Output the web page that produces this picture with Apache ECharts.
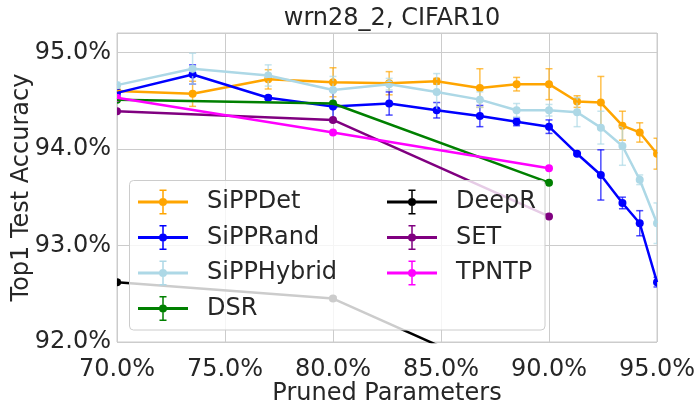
<!DOCTYPE html>
<html>
<head>
<meta charset="utf-8">
<script src="https://cdn.jsdelivr.net/npm/echarts@6/dist/echarts.min.js"></script>
<style>
  html, body { margin: 0; padding: 0; background: #ffffff; }
  #chart { width: 696px; height: 404px; }
</style>
</head>
<body>
<div id="chart"></div>
<script>
// Pruning schedule used by the SiPP variants (percent of parameters pruned)
const sippPruned = [70, 73.5, 77, 80, 82.6, 84.8, 86.8, 88.5, 90, 91.3, 92.4, 93.4, 94.2, 95];
const sippDetMean  = [94.60, 94.57, 94.72, 94.69, 94.68, 94.70, 94.63, 94.67, 94.67, 94.49, 94.48, 94.24, 94.17, 93.95];
const sippDetStd   = [0.05, 0.13, 0.10, 0.15, 0.12, 0.03, 0.20, 0.07, 0.16, 0.06, 0.27, 0.15, 0.10, 0.16];
const sippRandMean = [94.58, 94.77, 94.53, 94.44, 94.47, 94.40, 94.34, 94.28, 94.23, 93.95, 93.73, 93.44, 93.23, 92.62];
const sippRandStd  = [0.03, 0.10, 0.02, 0.16, 0.12, 0.08, 0.11, 0.04, 0.07, 0.01, 0.26, 0.06, 0.13, 0.05];
const sippHybMean  = [94.66, 94.83, 94.76, 94.61, 94.67, 94.59, 94.51, 94.40, 94.40, 94.38, 94.22, 94.03, 93.68, 93.23];
const sippHybStd   = [0.03, 0.16, 0.11, 0.14, 0.06, 0.19, 0.08, 0.07, 0.06, 0.15, 0.17, 0.20, 0.05, 0.21];

// Baselines evaluated at three pruning levels
const basePruned = [70, 80, 90];
const dsrMean   = [94.51, 94.47, 93.65];
const deepRMean = [92.62, 92.45, 91.45];
const deepRStd  = [0.02, 0.02, 0.02];
const setMean   = [94.39, 94.30, 93.30];
const tpntpMean = [94.53, 94.17, 93.80];

const xTicks = [70, 75, 80, 85, 90, 95];
const yTicks = [92, 93, 94, 95];

const FONT = '"DejaVu Sans", sans-serif';
const TEXT = '#262626';
const GRID = '#cccccc';

// Legend glyph: line, error bar with caps, and a round marker
const ICON = 'path://M0,11 L50,11 L50,14 L0,14 Z ' +
  'M24.25,0 L25.75,0 L25.75,25 L24.25,25 Z ' +
  'M21.5,0 L28.5,0 L28.5,1.5 L21.5,1.5 Z ' +
  'M21.5,23.5 L28.5,23.5 L28.5,25 L21.5,25 Z ' +
  'M29,12.5 A4,4 0 1 1 21,12.5 A4,4 0 1 1 29,12.5 Z';

function lineSeries(name, xs, ys, color) {
  return {
    name: name,
    type: 'line',
    data: xs.map((x, i) => [x, ys[i]]),
    symbol: 'none',
    clip: true,
    lineStyle: { color: color, width: 2.5 },
    itemStyle: { color: color },
    animation: false
  };
}

// Markers and error bars, clipped to the plotting area
function markSeries(name, xs, ys, errs, color) {
  return {
    name: name + ' marks',
    type: 'custom',
    silent: true,
    animation: false,
    encode: { x: 0, y: 1 },
    data: xs.map((x, i) => [x, ys[i], errs ? errs[i] : 0]),
    renderItem: function (params, api) {
      const x = api.value(0), y = api.value(1), e = api.value(2);
      const c = api.coord([x, y]);
      const cs = params.coordSys;
      const children = [];
      if (e > 0) {
        const top = api.coord([x, y + e])[1];
        const bot = api.coord([x, y - e])[1];
        const st = { stroke: color, lineWidth: 1.5, opacity: 0.7 };
        children.push({ type: 'line', shape: { x1: c[0], y1: top, x2: c[0], y2: bot }, style: st });
        children.push({ type: 'line', shape: { x1: c[0] - 3.5, y1: top, x2: c[0] + 3.5, y2: top }, style: st });
        children.push({ type: 'line', shape: { x1: c[0] - 3.5, y1: bot, x2: c[0] + 3.5, y2: bot }, style: st });
      }
      children.push({ type: 'circle', shape: { cx: c[0], cy: c[1], r: 4 }, style: { fill: color } });
      return {
        type: 'group',
        clipPath: { type: 'rect', shape: { x: cs.x, y: cs.y, width: cs.width, height: cs.height } },
        children: children
      };
    }
  };
}

const groups = [
  ['SiPPDet', sippPruned, sippDetMean, sippDetStd, '#FFA500'],
  ['SiPPRand', sippPruned, sippRandMean, sippRandStd, '#0000FF'],
  ['SiPPHybrid', sippPruned, sippHybMean, sippHybStd, '#ADD8E6'],
  ['DSR', basePruned, dsrMean, null, '#008000'],
  ['DeepR', basePruned, deepRMean, deepRStd, '#000000'],
  ['SET', basePruned, setMean, null, '#800080'],
  ['TPNTP', basePruned, tpntpMean, null, '#FF00FF']
];

const series = [];
groups.forEach(g => {
  series.push(lineSeries(g[0], g[1], g[2], g[4]));
  series.push(markSeries(g[0], g[1], g[2], g[3], g[4]));
});

const legendCommon = {
  orient: 'vertical',
  top: 189.5,
  padding: 0,
  itemWidth: 50,
  itemHeight: 25,
  itemGap: 10.5,
  selectedMode: false,
  zlevel: 2,
  z: 6,
  itemStyle: { borderWidth: 0 },
  textStyle: { fontFamily: FONT, fontSize: 24, color: TEXT, padding: [0, 0, 0, 14] }
};

const chart = echarts.init(document.getElementById('chart'), null, { renderer: 'canvas' });
chart.setOption({
  backgroundColor: '#ffffff',
  animation: false,
  title: {
    text: 'wrn28_2, CIFAR10',
    left: 387, textAlign: 'center', top: 2,
    textStyle: { fontFamily: FONT, fontSize: 24, fontWeight: 'normal', color: TEXT }
  },
  grid: {
    left: 117, right: 39, top: 33, bottom: 62,
    containLabel: false, outerBoundsMode: 'none',
    show: true, borderColor: GRID, borderWidth: 1, backgroundColor: 'transparent'
  },
  xAxis: {
    type: 'value', min: xTicks[0], max: xTicks[xTicks.length - 1], interval: 5,
    name: 'Pruned Parameters', nameLocation: 'middle', nameGap: 40, nameMoveOverlap: false,
    nameTextStyle: { fontFamily: FONT, fontSize: 24, color: TEXT },
    axisLine: { show: false }, axisTick: { show: false },
    axisLabel: { fontFamily: FONT, fontSize: 24, color: TEXT, margin: 16,
      formatter: v => v.toFixed(1) + '%' },
    splitLine: { show: true, lineStyle: { color: GRID, width: 1 } }
  },
  yAxis: {
    type: 'value', min: yTicks[0], max: 95.2, interval: 1,
    name: 'Top1 Test Accuracy', nameLocation: 'middle', nameGap: 83, nameMoveOverlap: false,
    nameTextStyle: { fontFamily: FONT, fontSize: 24, color: TEXT },
    axisLine: { show: false }, axisTick: { show: false },
    axisLabel: { fontFamily: FONT, fontSize: 24, color: TEXT, margin: 6, showMaxLabel: false,
      formatter: v => v.toFixed(1) + '%' },
    splitLine: { show: true, lineStyle: { color: GRID, width: 1 } }
  },
  graphic: {
    elements: [{
      type: 'rect', zlevel: 1, z: 3,
      shape: { x: 129.5, y: 180.5, width: 415.5, height: 149.5, r: 4 },
      style: { fill: 'rgba(255,255,255,0.8)', stroke: GRID, lineWidth: 1 },
      silent: true
    }]
  },
  legend: [
    Object.assign({}, legendCommon, {
      left: 138,
      data: ['SiPPDet', 'SiPPRand', 'SiPPHybrid', 'DSR'].map(n => ({ name: n, icon: ICON }))
    }),
    Object.assign({}, legendCommon, {
      left: 387,
      data: ['DeepR', 'SET', 'TPNTP'].map(n => ({ name: n, icon: ICON }))
    })
  ],
  series: series
});
</script>
</body>
</html>
